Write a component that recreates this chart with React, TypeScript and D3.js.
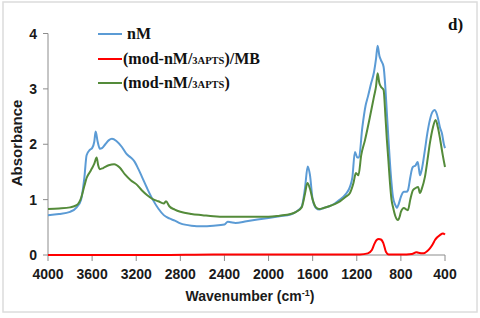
import React from 'react';
import * as d3 from 'd3';

// wavenumber (cm-1) / absorbance pairs
const nMWave = [4000, 3900, 3800, 3740, 3700, 3670, 3650, 3620, 3600, 3580, 3568, 3550, 3530, 3510, 3480, 3450, 3420, 3380, 3330, 3290, 3250, 3220, 3180, 3150, 3100, 3050, 3000, 2950, 2900, 2850, 2800, 2700, 2600, 2500, 2400, 2370, 2340, 2300, 2200, 2100, 2000, 1900, 1800, 1750, 1700, 1670, 1645, 1625, 1600, 1570, 1540, 1500, 1450, 1400, 1353, 1300, 1262, 1240, 1217, 1195, 1180, 1150, 1120, 1099, 1070, 1044, 1025, 1011, 995, 981, 957, 940, 927, 913, 899, 885, 872, 850, 836, 820, 800, 785, 773, 750, 736, 715, 700, 691, 666, 648, 636, 627, 610, 582, 560, 537, 515, 494, 475, 464, 445, 428, 410, 400];
const nMAbs = [0.72, 0.74, 0.78, 0.86, 1.0, 1.4, 1.8, 1.9, 1.93, 2.05, 2.23, 2.05, 1.92, 1.93, 2.0, 2.07, 2.1, 2.06, 1.95, 1.83, 1.76, 1.7, 1.55, 1.42, 1.2, 1.0, 0.84, 0.72, 0.66, 0.62, 0.57, 0.53, 0.52, 0.53, 0.55, 0.6, 0.59, 0.58, 0.61, 0.64, 0.67, 0.7, 0.73, 0.78, 0.87, 1.2, 1.6, 1.45, 1.0, 0.85, 0.82, 0.85, 0.88, 0.93, 1.0, 1.1, 1.23, 1.4, 1.86, 1.76, 1.76, 2.3, 2.7, 2.86, 3.1, 3.3, 3.55, 3.78, 3.6, 3.52, 3.4, 3.0, 2.56, 2.1, 1.66, 1.3, 1.05, 0.9, 0.85, 0.92, 1.05, 1.12, 1.14, 1.14, 1.17, 1.4, 1.55, 1.59, 1.62, 1.68, 1.55, 1.44, 1.55, 1.9, 2.2, 2.44, 2.58, 2.62, 2.55, 2.47, 2.3, 2.2, 2.0, 1.93];

const modWave = [4000, 3900, 3800, 3740, 3700, 3670, 3650, 3620, 3600, 3580, 3559, 3545, 3530, 3500, 3450, 3400, 3350, 3300, 3250, 3200, 3150, 3100, 3050, 3000, 2950, 2930, 2900, 2850, 2800, 2700, 2600, 2500, 2400, 2200, 2000, 1900, 1800, 1750, 1700, 1670, 1648, 1625, 1600, 1570, 1540, 1500, 1450, 1400, 1353, 1300, 1262, 1230, 1208, 1185, 1160, 1126, 1080, 1044, 1025, 1011, 995, 981, 957, 940, 927, 913, 899, 885, 872, 850, 827, 810, 800, 773, 750, 736, 715, 691, 666, 644, 627, 610, 582, 560, 537, 510, 485, 464, 445, 420, 400];
const modAbs = [0.83, 0.84, 0.86, 0.9, 1.03, 1.25, 1.39, 1.5, 1.57, 1.65, 1.76, 1.62, 1.55, 1.57, 1.62, 1.64, 1.58, 1.45, 1.35, 1.28, 1.17, 1.08, 1.01, 0.97, 0.93, 0.97, 0.88, 0.82, 0.78, 0.74, 0.72, 0.7, 0.69, 0.69, 0.69, 0.71, 0.74, 0.78, 0.86, 1.1, 1.3, 1.2, 1.0, 0.86, 0.83, 0.85, 0.88, 0.92, 0.97, 1.05, 1.12, 1.3, 1.48, 1.44, 1.8, 2.07, 2.5, 2.86, 3.05, 3.28, 3.1, 3.04, 2.98, 2.5, 2.08, 1.7, 1.3, 1.0, 0.87, 0.7, 0.63, 0.7, 0.78, 0.85, 0.82, 0.81, 1.0, 1.17, 1.21, 1.23, 1.12, 1.2, 1.41, 1.7, 2.02, 2.3, 2.44, 2.3, 2.1, 1.8, 1.59];

const mbWave = [4000, 3500, 3000, 2500, 2000, 1500, 1171, 1100, 1063, 1040, 1020, 1000, 981, 960, 936, 910, 800, 700, 660, 640, 600, 582, 560, 537, 510, 491, 470, 446, 419, 400];
const mbAbs = [0.0, 0.0, 0.0, 0.01, 0.01, 0.01, 0.01, 0.03, 0.09, 0.2, 0.27, 0.29, 0.28, 0.22, 0.06, 0.01, 0.01, 0.02, 0.05, 0.04, 0.03, 0.04, 0.07, 0.12, 0.2, 0.27, 0.32, 0.36, 0.39, 0.37];

const xTicks = [4000, 3600, 3200, 2800, 2400, 2000, 1600, 1200, 800, 400];
const yTicks = [0, 1, 2, 3, 4];

const series = [
  { name: 'nM', wave: nMWave, abs: nMAbs, color: '#5b9bd5' },
  { name: 'mod', wave: modWave, abs: modAbs, color: '#548b3a' },
  { name: 'mb', wave: mbWave, abs: mbAbs, color: '#ff0000' },
];

export default function App() {
  const width = 480;
  const height = 318;

  const x = d3.scaleLinear().domain([4000, 400]).range([48, 445]);
  const y = d3.scaleLinear().domain([0, 4]).range([255, 33.5]);

  const line = d3.line<[number, number]>()
    .x(d => x(d[0]))
    .y(d => y(d[1]))
    .curve(d3.curveMonotoneX);

  const axisColor = '#8c8c8c';
  const sans = '"Liberation Sans", Arial, sans-serif';
  const serif = '"Liberation Serif", "Times New Roman", serif';

  const legend = [
    { color: '#5b9bd5', y: 34 },
    { color: '#ff0000', y: 59 },
    { color: '#548b3a', y: 83 },
  ];

  return (
    <svg width={width} height={height} style={{ position: 'absolute', left: 0, top: 0, background: '#fff' }}>
      <rect x={3} y={2} width={474} height={310} fill="#fff" stroke="#dcdcdc" strokeWidth={1.5} />

      {/* axes */}
      <line x1={x(4000)} x2={x(4000)} y1={y(0)} y2={y(4)} stroke={axisColor} strokeWidth={1} />
      <line x1={x(4000)} x2={x(400)} y1={y(0)} y2={y(0)} stroke={axisColor} strokeWidth={1} />
      {yTicks.map(t => (
        <g key={'y' + t}>
          <line x1={x(4000) - 5} x2={x(4000)} y1={y(t)} y2={y(t)} stroke={axisColor} />
          <text x={37} y={y(t)} dy="0.36em" textAnchor="end" fontFamily={sans} fontWeight="bold" fontSize={14} fill="#1a1a1a">{t}</text>
        </g>
      ))}
      {xTicks.map(t => (
        <g key={'x' + t}>
          <line x1={x(t)} x2={x(t)} y1={y(0)} y2={y(0) + 6} stroke={axisColor} />
          <text x={x(t)} y={279} textAnchor="middle" fontFamily={sans} fontWeight="bold" fontSize={14} fill="#1a1a1a">{t}</text>
        </g>
      ))}

      {/* series */}
      {series.map(s => (
        <path key={s.name}
          d={line(s.wave.map((w, i) => [w, s.abs[i]] as [number, number])) || ''}
          fill="none" stroke={s.color} strokeWidth={2} strokeLinejoin="round" />
      ))}

      {/* axis titles */}
      <text transform="translate(22,143) rotate(-90)" textAnchor="middle" fontFamily={sans} fontWeight="bold" fontSize={15} fill="#1a1a1a">Absorbance</text>
      <text x={250} y={301} textAnchor="middle" fontFamily={sans} fontWeight="bold" fontSize={14} fill="#1a1a1a">
        Wavenumber (cm<tspan fontSize={9} dy={-5}>-1</tspan><tspan dy={5}>)</tspan>
      </text>

      {/* legend */}
      {legend.map((l, i) => (
        <line key={'lg' + i} x1={98} x2={122} y1={l.y} y2={l.y} stroke={l.color} strokeWidth={2} />
      ))}
      <text x={127} y={39} fontFamily={serif} fontWeight="bold" fontSize={16} fill="#111">nM</text>
      <text x={123} y={64} fontFamily={serif} fontWeight="bold" fontSize={16} fill="#111">
        (mod-nM/<tspan fontSize={10.5}>3APTS</tspan>)/MB
      </text>
      <text x={123} y={88} fontFamily={serif} fontWeight="bold" fontSize={16} fill="#111">
        (mod-nM/<tspan fontSize={10.5}>3APTS</tspan>)
      </text>

      <text x={448} y={30} fontFamily={serif} fontWeight="bold" fontSize={17} fill="#111">d)</text>
    </svg>
  );
}
